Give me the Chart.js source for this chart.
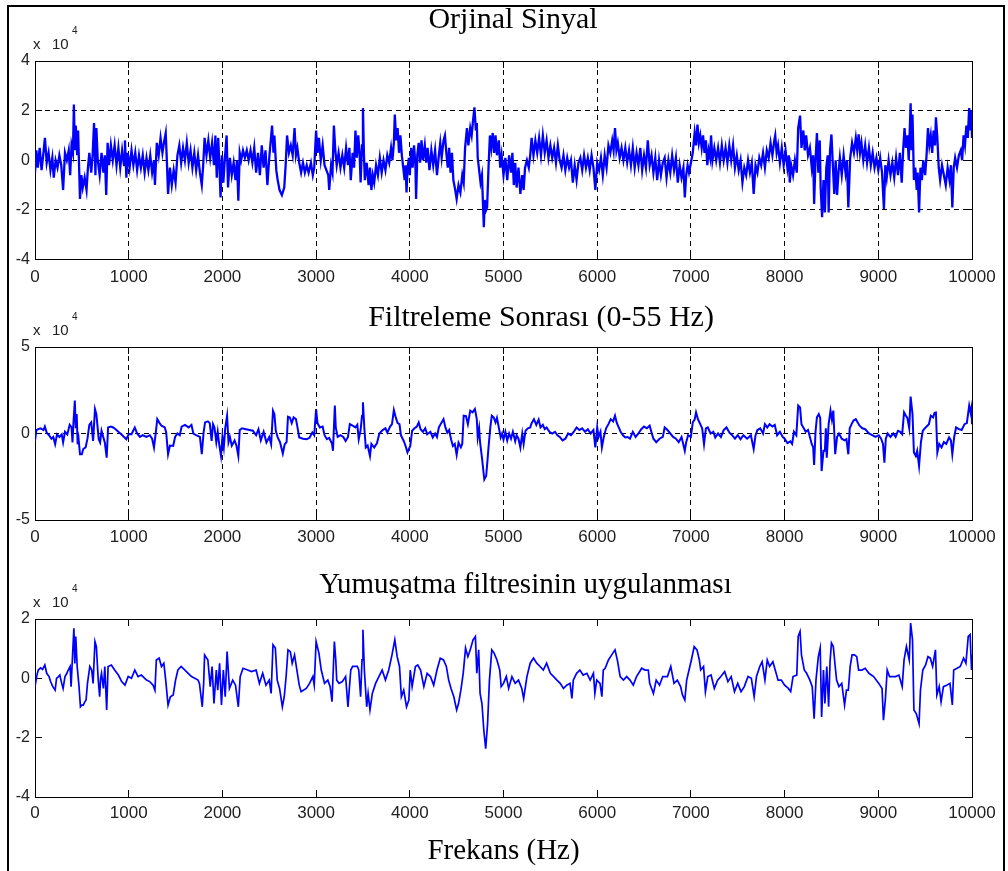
<!DOCTYPE html>
<html><head><meta charset="utf-8">
<script src="https://cdn.jsdelivr.net/npm/chart.js@4/dist/chart.umd.min.js"></script>
<style>
html,body{margin:0;padding:0;background:#fff;}
body{width:1008px;height:871px;position:relative;overflow:hidden;}
canvas{position:absolute;left:0;}
#frame{position:absolute;left:7px;top:5px;width:994px;height:900px;border:2px solid #000;border-bottom:none;pointer-events:none;}
</style></head><body>
<canvas id="c1" width="1026" height="290" style="top:0px"></canvas>
<canvas id="c2" width="1082" height="265" style="top:290px"></canvas>
<canvas id="c3" width="1051" height="311" style="top:560px"></canvas>
<div id="frame"></div>
<script>
// ---- text ----
const titles = ['Orjinal Sinyal', 'Filtreleme Sonrası (0-55 Hz)', 'Yumuşatma filtresinin uygulanması'];
const xAxisTitle = 'Frekans (Hz)';
const expBase = ['x', '10'];
const expPower = '4';
// ---- ticks ----
const xTickValues = [0,1000,2000,3000,4000,5000,6000,7000,8000,9000,10000];
const xTickLabels = ['0','1000','2000','3000','4000','5000','6000','7000','8000','9000','10000'];
const y1TickValues = [-4,-2,0,2,4];
const y1TickLabels = ['-4','-2','0','2','4'];
const y2TickValues = [-5,0,5];
const y2TickLabels = ['-5','0','5'];
const y3TickValues = [-4,-2,0,2];
const y3TickLabels = ['-4','-2','0','2'];
// ---- series: [sample, value in units of 10^4] ----
const origSignal = [[0,-0.5],[15,0.4],[30,-0.3],[50,0.5],[70,-0.4],[90,0.3],[106,0.9],[125,-0.1],[145,0.3],[165,-0.4],[185,0.1],[200,-0.7],[220,0.0],[240,-0.3],[260,0.2],[280,-0.2],[300,-1.2],[320,0.3],[340,0.0],[360,0.4],[375,-0.6],[390,0.6],[405,0.3],[415,2.25],[425,0.4],[435,1.4],[450,0.2],[460,1.2],[480,-1.56],[495,-0.6],[510,-1.1],[530,-0.7],[550,-1.2],[565,-0.3],[580,0.3],[600,-0.5],[615,0.2],[630,1.5],[645,-0.6],[655,1.3],[670,0.0],[690,-0.6],[710,0.3],[730,-0.5],[745,0.2],[760,-1.4],[775,0.7],[790,-0.2],[810,0.6],[830,0.0],[850,0.6],[870,-0.2],[890,0.5],[910,-0.3],[930,0.4],[950,-0.2],[960,0.8],[975,-0.7],[990,0.3],[1010,-0.3],[1030,0.4],[1050,-0.2],[1070,0.3],[1090,-0.4],[1110,0.2],[1130,-0.3],[1150,0.2],[1170,-0.5],[1190,0.1],[1210,-0.4],[1230,0.2],[1250,-0.5],[1270,0.0],[1280,-1.0],[1300,0.7],[1320,0.2],[1340,0.9],[1360,0.3],[1380,0.8],[1395,1.1],[1405,0.2],[1420,-1.36],[1440,-0.3],[1460,-1.0],[1480,-0.4],[1500,-0.9],[1520,0.2],[1540,0.6],[1560,-0.1],[1580,0.5],[1600,0.0],[1620,0.7],[1640,-0.1],[1660,0.4],[1680,-0.3],[1700,0.3],[1720,-0.4],[1740,0.2],[1760,-0.5],[1780,-1.0],[1795,-0.2],[1810,0.9],[1830,0.2],[1850,0.8],[1870,0.1],[1890,0.7],[1910,-0.2],[1925,1.0],[1940,-0.7],[1955,0.9],[1970,-0.4],[1980,-1.5],[1995,0.2],[2010,-0.9],[2025,0.0],[2045,1.0],[2060,-1.1],[2080,0.1],[2100,-0.6],[2120,-0.1],[2140,-0.8],[2155,0.0],[2170,-1.63],[2185,0.3],[2200,0.0],[2220,0.4],[2240,0.1],[2260,0.4],[2280,0.0],[2300,0.4],[2320,-0.1],[2340,0.5],[2360,-0.5],[2380,0.3],[2400,-0.6],[2420,0.6],[2440,-0.3],[2460,0.4],[2480,-1.0],[2500,0.1],[2530,1.4],[2545,0.3],[2555,1.0],[2575,-0.4],[2590,-0.8],[2610,-1.2],[2635,-1.4],[2660,-1.1],[2675,-0.2],[2690,1.0],[2710,0.3],[2730,0.6],[2750,0.2],[2770,1.3],[2785,0.2],[2800,0.5],[2820,-0.1],[2840,-0.5],[2860,-0.1],[2880,-0.5],[2900,-0.2],[2920,-0.5],[2945,-0.1],[2965,-0.6],[2980,-0.3],[3000,1.2],[3015,0.3],[3030,0.9],[3050,0.0],[3070,0.6],[3090,-0.2],[3110,-0.4],[3130,-0.6],[3140,-1.2],[3160,-0.2],[3175,-0.5],[3190,1.4],[3205,0.4],[3220,-0.2],[3240,0.3],[3260,-0.3],[3280,0.2],[3300,-0.3],[3320,0.5],[3340,-0.2],[3355,0.5],[3370,-0.8],[3390,0.3],[3405,-0.3],[3420,1.2],[3435,0.1],[3450,1.0],[3465,0.2],[3475,-0.9],[3490,0.6],[3500,2.1],[3510,0.3],[3520,-0.8],[3540,-0.1],[3560,-1.0],[3575,-0.3],[3590,-1.2],[3605,-0.6],[3620,-0.9],[3640,-0.2],[3660,-0.6],[3680,0.1],[3700,-0.5],[3720,0.0],[3740,-0.4],[3760,0.2],[3780,-0.1],[3800,0.5],[3815,0.0],[3830,0.7],[3840,1.84],[3855,0.8],[3870,1.3],[3885,0.3],[3900,1.0],[3915,0.2],[3930,-0.3],[3945,-0.8],[3955,-0.2],[3965,-1.3],[3975,-0.4],[3990,0.1],[4000,-0.6],[4015,0.5],[4030,-0.3],[4045,0.6],[4060,-0.2],[4067,-1.56],[4080,0.2],[4095,0.7],[4110,-0.1],[4125,0.8],[4140,0.0],[4160,0.6],[4175,-0.1],[4190,0.5],[4210,-0.4],[4230,0.4],[4250,-0.2],[4270,0.4],[4290,-0.6],[4310,0.2],[4325,0.7],[4340,0.1],[4360,0.8],[4375,1.0],[4390,0.3],[4405,-0.3],[4420,0.5],[4435,-0.5],[4450,0.3],[4465,-0.8],[4485,-1.2],[4500,-1.56],[4520,-1.0],[4540,-1.3],[4560,-0.6],[4575,-0.9],[4590,0.5],[4610,1.3],[4625,0.6],[4645,1.3],[4660,1.0],[4675,1.6],[4690,2.13],[4705,1.2],[4715,1.5],[4725,0.1],[4740,-0.4],[4755,-0.9],[4770,-0.6],[4790,-2.7],[4800,-1.6],[4815,-2.0],[4825,-1.9],[4840,-0.3],[4855,1.0],[4870,0.5],[4885,1.1],[4900,0.3],[4915,1.0],[4930,0.2],[4950,0.8],[4965,-0.3],[4980,0.2],[5000,-0.6],[5020,0.1],[5040,-0.8],[5060,0.2],[5080,-0.5],[5095,0.3],[5110,-1.0],[5125,-0.1],[5140,-1.1],[5160,-0.3],[5180,-1.36],[5200,-0.6],[5215,-1.2],[5230,-0.3],[5250,0.0],[5270,-0.3],[5285,0.2],[5300,0.9],[5320,0.2],[5340,0.8],[5360,0.3],[5380,0.9],[5400,0.2],[5420,1.0],[5440,0.3],[5460,0.8],[5480,0.1],[5500,0.6],[5520,0.1],[5540,0.5],[5560,-0.1],[5580,0.6],[5600,0.0],[5620,-0.3],[5640,0.2],[5660,-0.4],[5680,0.1],[5700,-0.3],[5720,0.0],[5740,-0.9],[5760,-0.2],[5780,-0.8],[5800,-0.1],[5820,0.1],[5840,-0.4],[5860,0.2],[5880,-0.3],[5900,0.1],[5920,-0.4],[5940,0.2],[5960,-0.3],[5980,-1.2],[6000,-0.1],[6020,-0.4],[6040,0.1],[6060,-0.6],[6080,0.2],[6100,-0.3],[6120,0.6],[6140,0.3],[6160,0.8],[6175,0.4],[6190,1.3],[6205,0.4],[6220,0.7],[6240,0.1],[6260,0.5],[6280,0.0],[6300,0.5],[6320,-0.1],[6340,0.4],[6360,-0.2],[6380,0.5],[6400,-0.3],[6420,0.3],[6440,-0.2],[6460,0.5],[6480,-0.4],[6500,0.2],[6520,-0.3],[6540,0.8],[6560,-0.2],[6580,0.2],[6600,-0.5],[6620,0.1],[6640,-0.8],[6660,0.0],[6680,-0.6],[6700,-0.1],[6720,0.1],[6740,-0.7],[6760,0.0],[6780,-0.5],[6800,0.2],[6820,-0.4],[6840,0.1],[6860,-0.9],[6880,-0.2],[6900,-0.7],[6920,-0.3],[6935,-1.5],[6950,-0.6],[6965,-0.2],[6980,-0.5],[7000,-0.1],[7020,0.3],[7040,1.1],[7055,0.6],[7070,1.44],[7085,0.7],[7100,1.0],[7115,0.5],[7130,1.0],[7145,0.3],[7160,0.8],[7175,-0.2],[7190,0.4],[7205,0.1],[7215,1.0],[7230,0.0],[7250,0.5],[7270,0.0],[7290,0.5],[7310,-0.1],[7330,0.6],[7350,0.0],[7370,0.5],[7390,-0.1],[7410,0.6],[7430,0.0],[7450,0.6],[7470,-0.3],[7490,0.2],[7510,-0.4],[7530,0.0],[7550,-0.9],[7570,-0.3],[7590,-0.6],[7610,0.0],[7630,-0.5],[7650,-0.1],[7670,-1.36],[7690,-0.2],[7710,-0.5],[7730,0.1],[7750,-0.2],[7770,0.3],[7790,-0.3],[7810,0.4],[7830,0.1],[7850,0.7],[7870,0.2],[7890,0.8],[7900,1.0],[7915,0.3],[7930,0.6],[7950,-0.1],[7970,0.5],[7990,-0.2],[8010,0.4],[8030,-0.3],[8045,0.2],[8055,-0.9],[8070,-0.2],[8090,-0.6],[8110,0.0],[8130,-0.5],[8145,1.3],[8165,1.8],[8180,0.5],[8200,1.2],[8215,0.4],[8230,1.0],[8250,0.2],[8270,0.5],[8290,-0.3],[8305,0.2],[8315,-1.76],[8330,0.0],[8345,1.1],[8360,-0.5],[8375,0.8],[8385,-1.1],[8400,-2.3],[8415,-0.8],[8430,-2.1],[8445,-0.3],[8460,0.2],[8470,-2.1],[8485,0.4],[8500,1.04],[8515,-0.2],[8530,-1.36],[8545,0.0],[8560,-1.4],[8575,-0.5],[8590,0.1],[8610,-0.6],[8630,0.2],[8650,-0.5],[8665,0.0],[8680,-1.9],[8700,0.1],[8720,0.7],[8740,0.3],[8760,0.9],[8775,0.4],[8790,1.04],[8805,0.3],[8820,0.7],[8840,0.0],[8860,0.6],[8880,-0.1],[8900,0.5],[8920,-0.2],[8940,0.3],[8960,-0.3],[8980,0.1],[9000,-0.4],[9020,0.1],[9040,-0.5],[9060,-1.96],[9075,-0.2],[9090,-0.7],[9110,0.0],[9130,-0.6],[9150,-0.1],[9170,-0.7],[9190,0.1],[9210,-0.6],[9230,0.3],[9250,-0.9],[9265,0.4],[9280,1.3],[9295,0.5],[9310,1.0],[9325,0.0],[9345,2.3],[9355,0.4],[9365,1.84],[9380,-0.8],[9395,-0.3],[9410,-1.2],[9420,-0.5],[9435,-2.1],[9450,-0.3],[9465,-0.8],[9480,0.0],[9500,-0.6],[9515,0.2],[9530,1.3],[9545,0.6],[9560,1.0],[9575,0.3],[9590,1.2],[9605,0.6],[9615,1.73],[9630,0.9],[9645,-0.3],[9660,-0.8],[9680,-0.2],[9700,-0.6],[9720,-1.0],[9740,-0.3],[9760,-0.8],[9775,-0.2],[9790,-1.9],[9805,-0.3],[9820,0.1],[9840,-0.3],[9860,0.2],[9880,0.4],[9895,0.0],[9910,1.0],[9925,0.6],[9940,1.4],[9955,0.9],[9970,2.1],[9985,1.2],[9995,2.0],[10000,0.9]];

const filteredSignal = [[0,-0.43],[15,0.2],[35,0.25],[60,0.3],[90,0.2],[105,0.4],[125,0.05],[150,-0.1],[175,-0.3],[195,-0.2],[215,-0.62],[235,-0.05],[260,-0.2],[285,-0.05],[300,-0.52],[320,0.1],[345,-0.05],[370,0.5],[390,0.35],[400,-0.52],[410,0.6],[425,1.9],[435,0.3],[445,1.12],[455,-0.62],[465,-0.3],[480,-1.2],[500,-1.2],[515,-0.9],[540,-0.8],[560,-0.3],[580,0.5],[600,0.64],[620,-0.43],[640,1.41],[655,1.12],[665,0.54],[680,-0.33],[695,-0.52],[710,0.16],[730,-0.23],[745,-0.52],[765,-1.4],[780,0.35],[810,0.4],[835,0.35],[860,0.25],[890,0.1],[920,-0.04],[950,-0.2],[975,-0.33],[1000,-0.04],[1030,-0.04],[1065,0.35],[1090,0.0],[1120,-0.2],[1150,-0.1],[1190,-0.2],[1225,-0.1],[1250,-0.3],[1270,-0.81],[1290,0.1],[1305,0.83],[1330,0.6],[1350,0.45],[1385,0.35],[1400,0.06],[1420,-1.2],[1440,-0.7],[1475,-0.72],[1495,-0.2],[1520,0.0],[1545,-0.1],[1565,0.4],[1600,0.5],[1640,0.35],[1670,0.5],[1690,0.0],[1720,-0.1],[1760,-0.2],[1780,-1.2],[1800,0.1],[1815,0.64],[1845,0.7],[1865,0.6],[1885,-0.43],[1900,0.54],[1915,0.35],[1935,-0.5],[1950,0.1],[1965,-0.6],[1985,-1.3],[2000,-0.2],[2015,-0.8],[2030,0.3],[2050,1.03],[2065,-0.5],[2080,-0.2],[2100,-0.7],[2130,-0.4],[2150,-0.7],[2170,-1.3],[2185,0.2],[2210,0.3],[2250,0.25],[2290,0.2],[2325,0.16],[2360,-0.1],[2385,0.25],[2410,-0.4],[2440,0.1],[2470,-0.52],[2500,-0.2],[2520,-0.62],[2540,1.32],[2555,1.12],[2570,0.16],[2590,-0.23],[2615,-0.5],[2645,-1.16],[2665,-0.62],[2685,-0.5],[2700,0.97],[2720,0.93],[2740,0.6],[2760,0.93],[2785,0.83],[2800,0.4],[2820,-0.23],[2860,-0.3],[2900,-0.33],[2930,-0.25],[2960,0.06],[2980,-0.1],[3000,1.41],[3015,0.6],[3040,0.35],[3070,0.4],[3090,-0.1],[3115,-0.33],[3140,-0.25],[3170,-0.6],[3180,-1.0],[3200,1.61],[3210,0.35],[3230,-0.2],[3260,-0.1],[3290,-0.2],[3315,-0.43],[3340,-0.2],[3360,0.54],[3390,0.45],[3420,0.35],[3440,0.5],[3455,-0.33],[3475,0.2],[3490,1.03],[3500,1.8],[3515,0.3],[3530,-0.81],[3550,-0.7],[3575,-1.3],[3590,-0.6],[3620,-0.81],[3650,-0.55],[3675,0.0],[3710,0.2],[3740,0.3],[3760,0.05],[3790,0.4],[3810,0.54],[3830,1.36],[3850,0.93],[3870,0.6],[3890,0.54],[3905,-0.1],[3935,-0.43],[3955,-0.72],[3975,-1.1],[3990,-0.9],[4005,-0.72],[4025,0.16],[4050,0.3],[4075,0.4],[4095,0.64],[4115,0.25],[4140,0.1],[4165,0.3],[4185,-0.05],[4220,0.1],[4245,-0.23],[4270,0.0],[4290,-0.2],[4310,0.35],[4335,0.6],[4360,0.83],[4380,0.35],[4400,0.05],[4420,0.2],[4440,-0.33],[4460,-0.72],[4480,-0.6],[4500,-1.24],[4520,-0.52],[4545,-0.8],[4560,-0.6],[4575,1.03],[4600,1.0],[4620,0.54],[4645,1.32],[4670,1.22],[4695,1.41],[4715,0.83],[4725,-0.23],[4740,0.3],[4750,-0.52],[4770,-1.4],[4795,-2.66],[4815,-2.46],[4830,-1.5],[4840,-0.81],[4860,0.4],[4875,1.03],[4895,0.93],[4915,0.64],[4930,0.9],[4950,0.35],[4970,-0.23],[4985,0.0],[5000,-0.35],[5020,0.1],[5040,-0.4],[5060,0.0],[5080,-0.3],[5100,0.1],[5125,-0.45],[5140,-0.1],[5160,-0.3],[5180,-0.81],[5200,0.0],[5215,-0.6],[5235,0.16],[5260,0.3],[5285,0.35],[5300,0.6],[5325,0.83],[5350,0.5],[5375,0.8],[5395,0.35],[5420,0.5],[5440,0.25],[5460,0.35],[5490,0.1],[5520,0.0],[5550,0.1],[5575,-0.1],[5600,-0.2],[5630,-0.4],[5660,-0.3],[5690,0.0],[5720,-0.1],[5745,0.06],[5780,0.35],[5810,0.2],[5840,0.3],[5870,0.1],[5900,0.25],[5930,0.0],[5960,0.2],[5980,-0.81],[6000,0.35],[6015,-0.2],[6035,0.1],[6050,-0.81],[6070,-0.2],[6095,0.3],[6120,0.54],[6145,0.83],[6170,0.7],[6190,1.03],[6210,0.6],[6230,0.35],[6250,0.1],[6275,-0.1],[6300,-0.23],[6325,-0.2],[6350,-0.3],[6380,0.1],[6410,-0.2],[6440,0.0],[6470,0.25],[6500,0.4],[6530,0.3],[6560,0.45],[6580,0.06],[6600,-0.3],[6630,-0.5],[6665,-0.3],[6700,-0.2],[6720,0.35],[6750,0.2],[6780,0.0],[6810,-0.2],[6840,-0.3],[6870,-0.5],[6900,-0.2],[6935,-1.0],[6950,-0.5],[6970,-0.1],[7000,-0.2],[7020,0.64],[7040,0.8],[7055,1.22],[7075,0.83],[7100,0.54],[7120,0.3],[7140,-0.62],[7160,0.3],[7180,0.35],[7210,0.0],[7240,0.1],[7260,-0.23],[7290,0.0],[7320,-0.2],[7350,0.2],[7380,0.35],[7410,0.06],[7440,-0.1],[7470,-0.3],[7500,-0.1],[7530,-0.33],[7560,-0.1],[7600,-0.3],[7640,-0.1],[7670,-0.9],[7690,-0.1],[7710,0.2],[7740,0.3],[7770,0.0],[7790,0.54],[7815,0.35],[7840,0.54],[7870,0.4],[7895,0.5],[7920,-0.1],[7950,0.1],[7980,-0.2],[8000,-0.3],[8030,-0.55],[8060,-0.45],[8080,-0.6],[8100,0.1],[8125,-0.1],[8145,1.61],[8165,1.5],[8180,0.54],[8200,0.35],[8225,0.1],[8250,0.2],[8270,-0.2],[8290,-0.62],[8305,-0.8],[8315,-1.82],[8330,0.1],[8345,0.93],[8365,1.12],[8380,0.9],[8395,-2.17],[8415,-1.0],[8430,-1.0],[8440,0.3],[8450,-1.4],[8470,0.54],[8490,1.32],[8505,0.8],[8520,1.32],[8540,-1.2],[8560,-0.2],[8580,0.0],[8610,-0.3],[8640,-0.4],[8660,-0.33],[8680,-1.2],[8695,0.3],[8715,0.54],[8735,0.75],[8760,0.83],[8780,0.64],[8800,0.45],[8830,0.3],[8860,0.25],[8900,0.0],[8935,-0.1],[8970,-0.2],[9005,-0.1],[9030,-0.3],[9050,-0.6],[9065,-1.69],[9080,-0.3],[9100,0.0],[9130,-0.2],[9160,0.0],[9185,-0.2],[9210,0.16],[9235,0.1],[9255,-0.04],[9275,1.22],[9295,1.03],[9310,0.9],[9330,0.3],[9345,2.13],[9365,1.12],[9380,-1.1],[9400,-1.3],[9415,-1.0],[9435,-1.88],[9455,-0.5],[9475,0.16],[9505,0.35],[9540,0.54],[9560,1.03],[9585,0.93],[9600,1.2],[9615,1.22],[9630,-1.1],[9650,-0.6],[9675,-0.81],[9700,-0.5],[9725,-0.6],[9755,-0.23],[9775,-0.4],[9790,-1.2],[9810,-0.2],[9830,0.35],[9860,0.25],[9890,0.2],[9920,0.54],[9945,0.6],[9970,1.61],[9985,1.2],[9995,1.5],[10000,0.54]];

const smoothedSignal = [[0,-0.28],[20,0.1],[35,0.28],[60,0.35],[80,0.3],[105,0.45],[125,0.17],[150,0.06],[165,-0.1],[190,-0.28],[215,-0.4],[230,0.0],[250,0.06],[265,0.11],[285,-0.17],[300,-0.34],[320,0.06],[340,0.17],[355,0.28],[375,0.4],[385,-0.28],[400,0.73],[415,1.69],[425,0.5],[435,1.41],[450,0.4],[470,-0.28],[485,-0.96],[500,-0.9],[515,-0.9],[530,-0.8],[545,-0.73],[560,-0.17],[585,0.4],[605,0.28],[620,-0.17],[640,1.24],[655,1.07],[675,-0.06],[690,-0.62],[700,0.0],[710,0.17],[730,-0.34],[745,0.4],[765,-1.07],[780,0.4],[815,0.45],[850,0.28],[890,0.11],[925,-0.11],[960,-0.23],[995,0.06],[1030,0.0],[1065,0.28],[1100,0.06],[1135,0.11],[1190,-0.06],[1225,-0.11],[1260,-0.23],[1280,-0.4],[1295,0.62],[1325,0.68],[1350,0.4],[1375,0.51],[1395,-0.06],[1420,-0.9],[1445,-0.62],[1475,-0.56],[1500,-0.06],[1525,0.28],[1560,0.4],[1600,0.28],[1635,0.17],[1670,0.06],[1705,0.0],[1740,-0.06],[1755,-0.17],[1785,-0.96],[1800,-0.17],[1810,0.79],[1845,0.62],[1870,-0.28],[1890,0.4],[1910,-0.85],[1935,0.28],[1950,-0.4],[1970,0.51],[1990,-0.9],[2010,0.28],[2030,-0.62],[2050,0.9],[2075,-0.34],[2110,-0.06],[2140,-0.23],[2170,-0.96],[2190,0.06],[2220,0.34],[2270,0.28],[2310,0.23],[2360,0.28],[2395,-0.17],[2430,0.17],[2465,-0.23],[2500,-0.06],[2520,-0.51],[2540,1.13],[2565,1.02],[2585,-0.06],[2610,-0.34],[2640,-0.96],[2660,-0.62],[2680,0.06],[2700,0.96],[2725,0.9],[2745,0.51],[2770,0.79],[2795,0.28],[2820,-0.23],[2840,-0.45],[2895,-0.34],[2930,-0.17],[2965,0.06],[2980,-0.23],[3000,1.24],[3030,0.85],[3055,0.28],[3090,-0.17],[3125,-0.06],[3150,-0.28],[3170,-0.79],[3195,1.24],[3210,0.62],[3220,-0.06],[3245,-0.17],[3280,-0.11],[3315,0.06],[3340,-0.96],[3370,0.28],[3390,0.4],[3440,0.4],[3455,0.28],[3475,-0.62],[3490,0.62],[3500,1.64],[3515,0.28],[3540,-0.96],[3555,-0.51],[3575,-1.07],[3600,-0.51],[3635,-0.17],[3670,0.06],[3705,0.28],[3740,-0.06],[3775,0.28],[3810,0.79],[3840,1.3],[3865,0.73],[3890,0.4],[3910,-0.62],[3935,-0.4],[3965,-0.96],[3990,-0.73],[4005,0.28],[4025,-0.28],[4060,0.4],[4085,0.45],[4115,0.28],[4150,-0.28],[4185,0.17],[4220,0.06],[4255,-0.23],[4290,0.28],[4325,0.68],[4360,0.62],[4390,0.4],[4415,-0.06],[4440,-0.34],[4470,-0.62],[4500,-1.07],[4520,-0.85],[4545,-0.4],[4570,0.17],[4595,1.02],[4620,0.73],[4645,0.96],[4675,1.3],[4700,1.41],[4715,0.17],[4735,0.96],[4750,-0.51],[4770,-0.85],[4790,-1.75],[4810,-2.37],[4830,-1.53],[4850,-0.06],[4875,0.96],[4900,0.85],[4930,0.62],[4960,0.28],[4975,-0.28],[5000,-0.17],[5030,0.06],[5055,-0.34],[5090,0.06],[5125,-0.17],[5160,-0.06],[5195,-0.34],[5215,-0.68],[5250,0.06],[5285,0.51],[5320,0.68],[5355,0.51],[5390,0.4],[5425,0.28],[5460,0.51],[5500,0.17],[5535,0.06],[5570,-0.06],[5605,-0.17],[5640,-0.34],[5675,-0.23],[5710,-0.17],[5730,-0.68],[5745,-0.06],[5780,0.17],[5815,0.28],[5850,0.11],[5890,0.17],[5925,-0.06],[5960,0.17],[5975,-0.51],[5995,-0.06],[6030,-0.17],[6050,-0.62],[6065,0.28],[6085,0.34],[6120,0.62],[6155,0.79],[6190,0.96],[6215,0.62],[6245,0.06],[6280,-0.06],[6315,0.06],[6350,-0.06],[6385,-0.23],[6420,0.06],[6475,0.34],[6510,0.28],[6545,0.28],[6560,-0.17],[6600,-0.51],[6630,-0.06],[6665,-0.23],[6700,0.06],[6750,0.06],[6785,0.4],[6820,-0.17],[6855,-0.06],[6890,-0.28],[6910,-0.56],[6935,-0.73],[6955,-0.06],[6980,0.28],[7005,0.62],[7035,1.07],[7065,0.96],[7090,0.62],[7105,0.28],[7135,0.4],[7155,-0.45],[7180,0.06],[7215,0.11],[7250,-0.34],[7285,-0.06],[7320,0.06],[7360,0.23],[7395,-0.11],[7430,0.06],[7465,-0.45],[7500,-0.17],[7535,-0.45],[7570,-0.28],[7610,0.06],[7645,0.0],[7675,-0.62],[7700,0.06],[7735,0.4],[7760,0.56],[7790,-0.06],[7815,0.62],[7840,0.4],[7875,0.56],[7900,0.28],[7930,-0.06],[7965,-0.06],[8000,-0.23],[8040,-0.34],[8065,-0.45],[8090,0.06],[8130,0.11],[8145,1.41],[8165,1.58],[8180,0.79],[8210,0.28],[8235,0.17],[8270,-0.06],[8295,-0.28],[8315,-1.36],[8335,-0.06],[8360,0.73],[8380,1.02],[8395,-1.3],[8415,0.28],[8430,-0.85],[8450,0.4],[8470,-0.96],[8485,0.56],[8500,1.19],[8520,1.07],[8540,0.4],[8555,-0.06],[8580,-0.28],[8610,-0.17],[8640,-0.9],[8660,-0.4],[8680,-0.4],[8700,0.4],[8720,0.79],[8745,0.79],[8770,0.73],[8790,0.28],[8825,0.28],[8860,0.34],[8900,0.17],[8950,0.06],[9005,-0.17],[9040,-0.34],[9055,-1.41],[9075,-0.73],[9095,0.28],[9120,0.06],[9150,0.06],[9185,0.06],[9220,0.11],[9255,-0.28],[9275,0.62],[9300,1.07],[9330,0.62],[9345,1.86],[9365,1.3],[9380,-1.07],[9405,-1.19],[9435,-1.53],[9450,-0.4],[9475,0.28],[9505,0.45],[9530,0.73],[9555,0.68],[9580,0.4],[9610,0.96],[9625,-0.56],[9650,-0.28],[9670,-0.79],[9695,-0.28],[9730,-0.23],[9765,-0.17],[9790,-0.9],[9805,0.28],[9840,0.34],[9875,0.4],[9910,0.68],[9935,0.51],[9960,1.41],[9980,1.47],[9995,0.28],[10000,0.79]];

// ---- drawing ----
Chart.defaults.font.family = '"Liberation Sans", Arial, sans-serif';
Chart.defaults.color = '#222';

const exponentPlugin = {
  id: 'exponentLabel',
  afterDraw(chart) {
    const {ctx, chartArea} = chart;
    ctx.save();
    ctx.fillStyle = '#222';
    ctx.textAlign = 'left';
    ctx.textBaseline = 'alphabetic';
    ctx.font = '15px "Liberation Sans"';
    ctx.fillText(expBase[0], chartArea.left - 2, chartArea.top - 12);
    ctx.fillText(expBase[1], chartArea.left + 17, chartArea.top - 12);
    ctx.font = '10px "Liberation Sans"';
    ctx.fillText(expPower, chartArea.left + 37, chartArea.top - 27);
    ctx.restore();
  }
};

function makePanel(id, cfg) {
  const lineGrid = {
    display: true, drawOnChartArea: cfg.grid, drawTicks: true, tickLength: -7,
    color: '#000', lineWidth: 1, tickColor: '#000', tickWidth: 1
  };
  const secGrid = {
    display: true, drawOnChartArea: false, drawTicks: true, tickLength: -7,
    color: '#000', lineWidth: 1, tickColor: '#000', tickWidth: 1
  };
  const border = { display: true, color: '#000', width: 1, dash: [5, 4] };
  const setX = s => { s.ticks = xTickValues.map(v => ({ value: v })); };
  const setY = s => { s.ticks = cfg.yVals.map(v => ({ value: v })); };
  return new Chart(document.getElementById(id), {
    type: 'line',
    data: {
      datasets: [{
        data: cfg.series.map(p => ({ x: p[0], y: p[1] })),
        borderColor: '#0000ff', borderWidth: cfg.lw,
        pointRadius: 0, tension: 0, fill: false
      }]
    },
    options: {
      responsive: false, animation: false, events: [],
      layout: { padding: 0 },
      plugins: {
        legend: { display: false }, tooltip: { enabled: false },
        title: {
          display: true, text: cfg.title, color: '#000',
          font: { family: '"Liberation Serif", "Times New Roman", serif', size: cfg.titleSize, weight: 'normal', lineHeight: 1 },
          padding: { top: cfg.tPadTop, bottom: cfg.tPadBottom }
        }
      },
      scales: {
        x: {
          type: 'linear', position: 'bottom', min: 0, max: 10000,
          afterBuildTicks: setX,
          afterFit: s => { s.height = cfg.xH; },
          ticks: {
            color: '#222', font: { size: 17 }, padding: cfg.xPad, maxRotation: 0, autoSkip: false,
            callback: (v, i) => xTickLabels[i]
          },
          grid: lineGrid, border: border,
          title: cfg.xTitle ? {
            display: true, text: cfg.xTitle, color: '#000',
            font: { family: '"Liberation Serif", "Times New Roman", serif', size: 29, weight: 'normal', lineHeight: 1 },
            padding: { top: 0, bottom: 5 }
          } : { display: false }
        },
        y: {
          type: 'linear', position: 'left', min: cfg.yMin, max: cfg.yMax,
          afterBuildTicks: setY,
          afterFit: s => { s.width = 35; },
          ticks: { color: '#222', font: { size: 16 }, padding: 12, callback: (v, i) => cfg.yLabels[i] },
          grid: lineGrid, border: border
        },
        x2: {
          type: 'linear', position: 'top', min: 0, max: 10000,
          afterBuildTicks: setX,
          afterFit: s => { s.height = 0; },
          ticks: { display: false },
          grid: secGrid, border: { display: true, color: '#000', width: 1 }
        },
        y2: {
          type: 'linear', position: 'right', min: cfg.yMin, max: cfg.yMax,
          afterBuildTicks: setY,
          afterFit: s => { s.width = cfg.rightW; },
          ticks: { display: false },
          grid: secGrid, border: { display: true, color: '#000', width: 1 }
        }
      }
    },
    plugins: [exponentPlugin]
  });
}

makePanel('c1', {
  series: origSignal, lw: 2.3, grid: true, title: titles[0], titleSize: 30, tPadTop: 5, tPadBottom: 26,
  xH: 30.5, xPad: 15, yMin: -4, yMax: 4, yVals: y1TickValues, yLabels: y1TickLabels, rightW: 54
});
makePanel('c2', {
  series: filteredSignal, lw: 2.0, grid: true, title: titles[1], titleSize: 30, tPadTop: 13, tPadBottom: 14,
  xH: 35, xPad: 14, yMin: -5, yMax: 5, yVals: y2TickValues, yLabels: y2TickLabels, rightW: 110
});
makePanel('c3', {
  series: smoothedSignal, lw: 1.7, grid: false, title: titles[2], titleSize: 29, tPadTop: 11, tPadBottom: 19,
  xH: 74, xPad: 13.5, yMin: -4, yMax: 2, yVals: y3TickValues, yLabels: y3TickLabels, rightW: 79,
  xTitle: xAxisTitle
});
</script>
</body></html>
